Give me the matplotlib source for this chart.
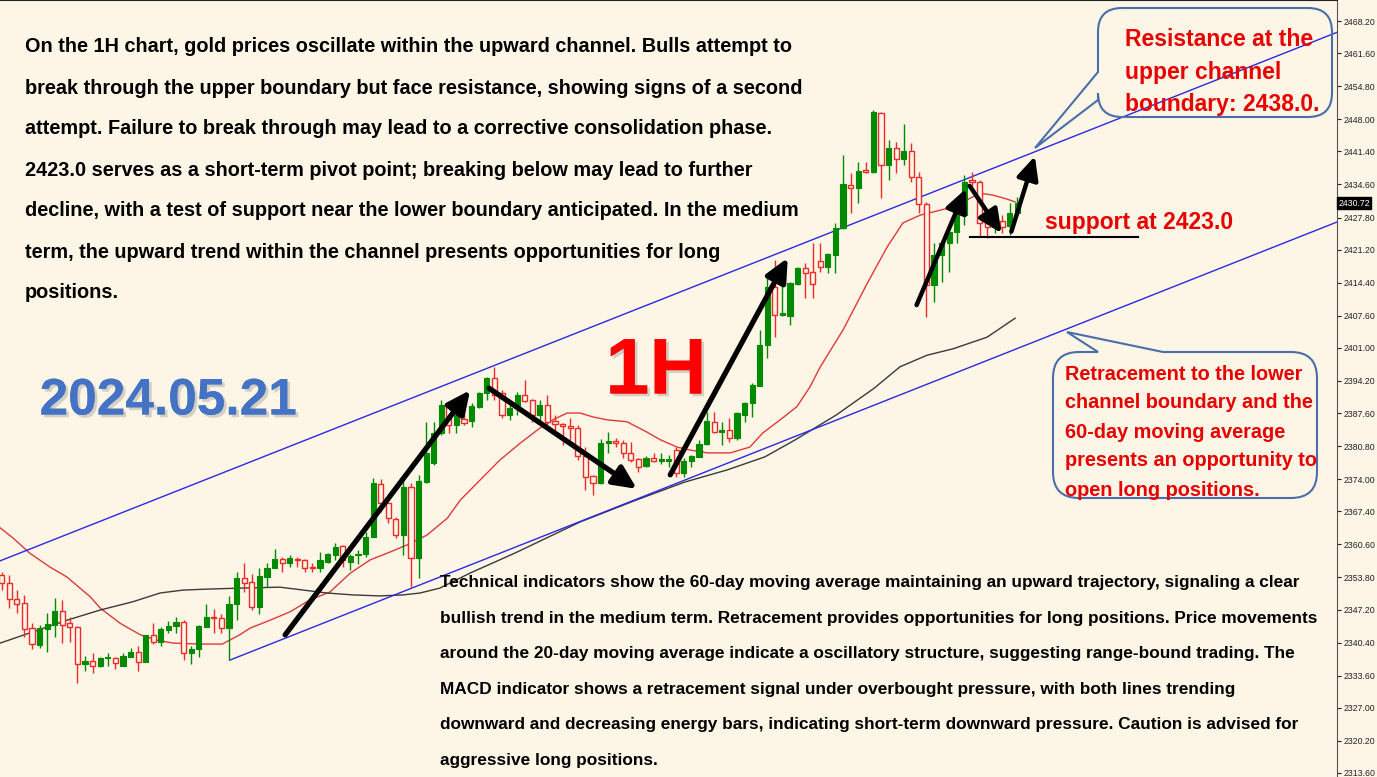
import matplotlib
matplotlib.use("Agg")
import matplotlib.pyplot as plt
import matplotlib.patheffects as pe
from matplotlib.path import Path
from matplotlib.patches import PathPatch
import numpy as np

# 1H gold candles, oldest first
opens = [2354.3, 2352.7, 2349.4, 2348.6, 2343.4, 2339.9, 2343.2, 2344.0, 2346.9, 2344.5,
         2343.6, 2336.0, 2336.6, 2335.6, 2337.3, 2337.3, 2335.6, 2337.5, 2338.5, 2336.4,
         2342.0, 2340.6, 2343.0, 2343.8, 2344.7, 2338.3, 2339.1, 2343.6, 2345.7, 2345.5,
         2343.4, 2348.4, 2353.7, 2352.9, 2347.7, 2353.9, 2355.8, 2357.6, 2356.8, 2357.6,
         2357.4, 2356.0, 2355.8, 2357.0, 2358.5, 2360.3, 2357.0, 2358.5, 2358.7, 2362.1,
         2373.0, 2369.1, 2365.8, 2362.6, 2372.4, 2357.8, 2373.4, 2377.3, 2383.5, 2389.3,
         2385.2, 2386.4, 2386.0, 2388.9, 2391.7, 2394.8, 2391.7, 2387.2, 2388.7, 2391.3,
         2390.3, 2387.2, 2389.3, 2386.0, 2385.4, 2384.9, 2384.5, 2378.8, 2374.7, 2373.2,
         2381.5, 2381.9, 2381.5, 2379.4, 2378.2, 2376.7, 2378.4, 2377.8, 2377.8, 2380.0,
         2375.3, 2377.8, 2378.6, 2381.3, 2385.8, 2383.7, 2384.1, 2382.5, 2387.2, 2389.7,
         2393.2, 2401.6, 2413.5, 2407.7, 2407.5, 2414.1, 2417.4, 2416.6, 2418.8, 2417.6,
         2420.1, 2425.6, 2434.5, 2433.9, 2437.6, 2437.2, 2449.3, 2438.6, 2442.1, 2439.9,
         2441.5, 2436.1, 2430.6, 2413.9, 2420.1, 2422.6, 2424.8, 2428.3, 2435.5, 2435.1,
         2426.9, 2425.9, 2427.1, 2426.1, 2428.7]
highs = [2354.9, 2354.3, 2351.2, 2350.2, 2344.5, 2344.0, 2346.5, 2349.6, 2349.2, 2345.7,
         2343.8, 2337.7, 2338.3, 2337.5, 2338.3, 2337.5, 2338.3, 2339.3, 2339.7, 2342.0,
         2344.5, 2343.6, 2344.9, 2345.7, 2345.1, 2339.7, 2344.0, 2348.4, 2347.3, 2346.3,
         2350.0, 2354.9, 2356.8, 2354.5, 2355.8, 2356.8, 2359.7, 2358.0, 2358.4, 2358.0,
         2357.5, 2356.8, 2359.1, 2358.9, 2360.9, 2360.5, 2358.7, 2359.5, 2363.1, 2374.3,
         2374.1, 2369.3, 2366.2, 2375.0, 2373.2, 2374.9, 2385.8, 2385.8, 2390.3, 2389.7,
         2388.2, 2388.9, 2389.7, 2391.9, 2395.0, 2397.1, 2392.4, 2389.3, 2391.9, 2394.4,
         2390.5, 2390.3, 2391.3, 2387.2, 2385.6, 2386.6, 2385.2, 2380.6, 2374.9, 2382.3,
         2383.7, 2382.5, 2382.1, 2381.7, 2378.4, 2378.8, 2379.4, 2379.4, 2379.0, 2380.6,
         2378.4, 2379.0, 2382.1, 2387.8, 2387.8, 2385.8, 2386.6, 2387.8, 2389.9, 2393.8,
         2404.7, 2415.6, 2419.1, 2413.9, 2414.5, 2417.6, 2418.4, 2422.5, 2422.5, 2420.5,
         2426.7, 2440.7, 2437.0, 2439.2, 2439.2, 2449.9, 2449.5, 2443.8, 2443.4, 2447.1,
         2443.2, 2437.2, 2431.0, 2422.6, 2423.2, 2426.3, 2428.9, 2436.5, 2437.2, 2435.5,
         2427.7, 2430.4, 2428.3, 2430.8, 2432.0]
lows = [2351.2, 2347.5, 2346.5, 2341.6, 2339.1, 2339.3, 2338.5, 2341.6, 2340.4, 2340.6,
        2332.1, 2334.6, 2334.2, 2335.4, 2335.6, 2335.0, 2335.6, 2337.5, 2334.6, 2336.4,
        2340.1, 2339.7, 2342.4, 2342.4, 2336.9, 2336.0, 2337.5, 2343.6, 2342.4, 2342.4,
        2336.9, 2345.1, 2350.8, 2347.1, 2346.3, 2351.9, 2355.8, 2354.9, 2356.0, 2356.0,
        2355.0, 2355.0, 2355.0, 2356.8, 2357.4, 2356.0, 2355.4, 2356.6, 2358.0, 2362.1,
        2367.3, 2365.0, 2361.9, 2358.4, 2351.9, 2353.7, 2373.2, 2376.9, 2383.1, 2383.5,
        2383.5, 2385.2, 2384.7, 2388.7, 2390.3, 2390.3, 2386.6, 2386.2, 2387.2, 2389.9,
        2385.8, 2385.8, 2384.7, 2383.7, 2381.0, 2382.1, 2378.0, 2371.8, 2370.8, 2373.0,
        2379.4, 2380.6, 2378.4, 2377.6, 2375.5, 2376.5, 2377.6, 2377.2, 2376.6, 2374.5,
        2374.5, 2376.5, 2378.6, 2381.0, 2383.5, 2381.0, 2381.7, 2382.1, 2385.8, 2386.8,
        2393.2, 2398.9, 2403.2, 2407.5, 2405.7, 2413.9, 2411.2, 2411.2, 2416.6, 2416.4,
        2416.4, 2425.4, 2428.7, 2430.8, 2437.0, 2437.0, 2431.8, 2435.5, 2437.0, 2438.6,
        2435.1, 2428.7, 2407.3, 2410.4, 2414.5, 2416.6, 2422.6, 2426.3, 2434.1, 2423.8,
        2423.6, 2424.6, 2424.6, 2424.2, 2428.3]
closes = [2352.7, 2349.4, 2348.4, 2343.2, 2340.1, 2343.4, 2344.2, 2346.9, 2344.0, 2343.6,
          2336.0, 2336.6, 2335.6, 2337.3, 2337.5, 2336.2, 2337.7, 2338.5, 2336.4, 2342.0,
          2340.6, 2343.2, 2343.8, 2344.7, 2338.3, 2339.1, 2343.8, 2345.7, 2345.5, 2343.4,
          2348.4, 2353.7, 2352.7, 2347.7, 2354.1, 2355.8, 2357.6, 2356.8, 2357.8, 2357.4,
          2355.8, 2355.8, 2357.4, 2358.7, 2360.1, 2357.4, 2358.2, 2358.7, 2362.1, 2373.2,
          2369.1, 2366.0, 2362.6, 2372.4, 2357.8, 2373.6, 2379.4, 2383.5, 2389.3, 2385.2,
          2387.2, 2385.6, 2389.1, 2391.7, 2394.8, 2391.3, 2387.2, 2388.7, 2391.3, 2390.1,
          2387.2, 2389.3, 2385.8, 2385.4, 2384.9, 2384.5, 2378.8, 2374.5, 2373.2, 2381.5,
          2381.9, 2381.5, 2379.4, 2378.0, 2376.5, 2378.4, 2377.8, 2378.2, 2378.2, 2375.3,
          2377.8, 2378.8, 2381.3, 2386.0, 2383.7, 2384.1, 2382.5, 2387.6, 2389.7, 2393.4,
          2401.6, 2413.5, 2407.7, 2408.1, 2414.3, 2417.4, 2416.4, 2414.1, 2417.6, 2420.3,
          2425.6, 2434.7, 2433.9, 2437.4, 2437.2, 2449.5, 2438.6, 2442.1, 2439.9, 2441.5,
          2436.1, 2430.6, 2413.9, 2420.1, 2422.6, 2424.8, 2428.3, 2435.1, 2435.1, 2426.7,
          2425.9, 2426.9, 2425.9, 2428.7, 2430.7]

# moving averages, sampled along the drawn lines (bar index, price)
ma20_x = [-0.2, 1.5, 3.7, 6.4, 8.6, 11.7, 13.0, 15.6, 18.3, 20.5, 22.6, 26.2, 29.1, 31.4,
          32.8, 35.4, 38.0, 40.7, 43.3, 46.0, 48.6, 51.2, 53.5, 56.1, 58.8, 60.5, 63.1,
          65.7, 68.4, 71.0, 72.7, 74.6, 76.3, 78.0, 79.9, 82.5, 85.1, 86.9, 89.1, 90.8,
          93.1, 96.1, 98.7, 100.4, 102.7, 104.9, 106.6, 108.0, 111.0, 114.2, 116.8, 118.9,
          121.2, 123.8, 126.0, 127.8, 129.1, 130.8, 132.6, 133.7]
ma20_y = [2364.0, 2361.9, 2358.8, 2355.9, 2353.9, 2349.8, 2347.5, 2344.4, 2342.0, 2340.9,
          2340.3, 2340.1, 2340.1, 2342.0, 2343.4, 2345.0, 2346.7, 2349.2, 2350.8, 2354.7,
          2357.4, 2359.0, 2360.5, 2362.5, 2366.0, 2369.7, 2373.8, 2377.9, 2381.4, 2384.5,
          2386.2, 2387.6, 2387.6, 2386.8, 2386.2, 2385.8, 2383.7, 2382.1, 2380.6, 2380.0,
          2379.4, 2379.4, 2380.6, 2383.5, 2386.2, 2388.9, 2392.9, 2397.1, 2404.7, 2414.3,
          2421.7, 2426.7, 2428.3, 2429.3, 2430.2, 2431.8, 2432.8, 2432.4, 2431.6, 2431.0]
ma60_x = [-0.2, 4.1, 8.6, 13.0, 17.3, 20.9, 23.9, 27.1, 31.4, 36.7, 39.8, 42.9, 46.4, 49.9,
          52.9, 55.2, 57.8, 61.8, 67.7, 76.3, 83.7, 90.1, 95.7, 100.7, 104.7, 110.1, 115.1,
          118.5, 122.1, 125.5, 130.0, 133.7]
ma60_y = [2340.3, 2342.6, 2345.0, 2347.1, 2348.8, 2350.6, 2351.2, 2351.4, 2351.6, 2351.8,
          2351.2, 2350.6, 2350.2, 2350.0, 2350.2, 2350.6, 2351.6, 2354.7, 2358.8, 2365.2,
          2369.7, 2373.4, 2375.9, 2378.6, 2382.1, 2387.2, 2392.7, 2397.1, 2399.5, 2400.8,
          2403.2, 2407.1]

price_ticks = [2468.20, 2461.60, 2454.80, 2448.00, 2441.40, 2434.60, 2427.80, 2421.20,
               2414.40, 2407.60, 2401.00, 2394.20, 2387.60, 2380.80, 2374.00, 2367.40,
               2360.60, 2353.80, 2347.20, 2340.40, 2333.60, 2327.00, 2320.20, 2313.60]
last_price = 2430.72

top_lines = [
    "On the 1H chart, gold prices oscillate within the upward channel. Bulls attempt to",
    "break through the upper boundary but face resistance, showing signs of a second",
    "attempt. Failure to break through may lead to a corrective consolidation phase.",
    "2423.0 serves as a short-term pivot point; breaking below may lead to further",
    "decline, with a test of support near the lower boundary anticipated. In the medium",
    "term, the upward trend within the channel presents opportunities for long",
    "positions.",
]
bottom_lines = [
    "Technical indicators show the 60-day moving average maintaining an upward trajectory, signaling a clear",
    "bullish trend in the medium term. Retracement provides opportunities for long positions. Price movements",
    "around the 20-day moving average indicate a oscillatory structure, suggesting range-bound trading. The",
    "MACD indicator shows a retracement signal under overbought pressure, with both lines trending",
    "downward and decreasing energy bars, indicating short-term downward pressure. Caution is advised for",
    "aggressive long positions.",
]
resist_lines = ["Resistance at the", "upper channel", "boundary: 2438.0."]
retrace_lines = ["Retracement to the lower", "channel boundary and the", "60-day moving average",
                 "presents an opportunity to", "open long positions."]

W, H = 1377, 777
BG = "#fdf5e6"
GREEN = "#008a00"
RED = "#ee2a2a"
FONT = ["Liberation Sans", "DejaVu Sans"]

fig = plt.figure(figsize=(W / 100, H / 100), dpi=100, facecolor=BG)
ax = fig.add_axes([0, 0, 1337 / W, 1])
ax.set_facecolor(BG)

o = np.array(opens); h = np.array(highs); l = np.array(lows); c = np.array(closes)
idx = np.arange(len(o))
up = c >= o
cols = np.where(up, GREEN, RED)

# wicks, then bodies on top
ax.vlines(idx, l, h, colors=cols, lw=1, zorder=3)
body_lo = np.minimum(o, c)
body_h = np.maximum(np.abs(c - o), 0.15)
ax.bar(idx[up], body_h[up], bottom=body_lo[up], width=0.68, color=GREEN,
       edgecolor=GREEN, lw=0.8, zorder=4)
ax.bar(idx[~up], body_h[~up], bottom=body_lo[~up], width=0.68, color=BG,
       edgecolor=RED, lw=1, zorder=4)

ax.plot(ma20_x, ma20_y, color="#e03a3a", lw=1, zorder=2)
ax.plot(ma60_x, ma60_y, color="#3a3a3a", lw=1, zorder=2)

# channel
ax.plot([-0.22, 176.2], [2357.2, 2465.9], color="#2a2ae0", lw=1, zorder=2)
ax.plot([30.1, 176.2], [2336.8, 2426.9], color="#2a2ae0", lw=1, zorder=2)

# support line
ax.plot([127.7, 149.9], [2423.8, 2423.8], color="black", lw=1.5, zorder=5)

arrows = [((37.4, 2342.0), (61.8, 2392.3), 3.8),
          ((64.3, 2392.7), (83.8, 2372.0), 3.8),
          ((88.2, 2374.9), (103.7, 2419.5), 3.8),
          ((120.7, 2409.8), (127.2, 2433.7), 3.2),
          ((127.7, 2434.3), (131.9, 2424.6), 3.2),
          ((133.2, 2424.9), (136.3, 2440.4), 3.2)]
for start, tip, w in arrows:
    ax.annotate("", xy=tip, xytext=start,
                arrowprops=dict(arrowstyle="-|>,head_length=0.7,head_width=0.33",
                                lw=w, color="black", mutation_scale=20,
                                shrinkA=0, shrinkB=0), zorder=6)

ax.set_xlim(-0.22, 176.16)
ax.set_ylim(2312.77, 2472.52)
ax.set_xticks([])
ax.yaxis.tick_right()
ax.set_yticks(price_ticks)
ax.set_yticklabels([f"{v:.2f}" for v in price_ticks], fontsize=6.3, family=FONT)
ax.tick_params(axis="y", direction="out", length=3, width=0.8, pad=2, colors="#222222")
for s in ["left", "bottom"]:
    ax.spines[s].set_visible(False)
ax.spines["right"].set_color("#555555")
ax.spines["top"].set_color("#222222")

ax.text(1.001, last_price, f"{last_price:.2f}", transform=ax.get_yaxis_transform(),
        ha="left", va="center", fontsize=6.3, family=FONT, color="white",
        bbox=dict(boxstyle="square,pad=0.15", fc="black", ec="black"), clip_on=False)


def fxy(x, y):
    return (x / W, 1 - y / H)


def callout(x0, y0, x1, y1, r, side, base, tip):
    v, k = [], []

    def mv(x, y):
        v.append(fxy(x, y)); k.append(Path.MOVETO)

    def ln(x, y):
        v.append(fxy(x, y)); k.append(Path.LINETO)

    def cv(cx, cy, x, y):
        v.extend([fxy(cx, cy), fxy(x, y)]); k.extend([Path.CURVE3, Path.CURVE3])

    mv(x0 + r, y0)
    if side == "top":
        ln(base[0], y0); ln(*tip); ln(base[1], y0)
    ln(x1 - r, y0); cv(x1, y0, x1, y0 + r)
    ln(x1, y1 - r); cv(x1, y1, x1 - r, y1)
    ln(x0 + r, y1); cv(x0, y1, x0, y1 - r)
    if side == "left":
        ln(x0, base[1]); ln(*tip); ln(x0, base[0])
    ln(x0, y0 + r); cv(x0, y0, x0 + r, y0)
    v.append(fxy(x0 + r, y0)); k.append(Path.CLOSEPOLY)
    fig.add_artist(PathPatch(Path(v, k), transform=fig.transFigure, fc="none",
                             ec="#4a6ea8", lw=1.5, zorder=7))


callout(1098, 8, 1332, 117, 24, "left", (72, 100), (1035, 148))
callout(1053, 352, 1317, 498, 26, "top", (1098, 1163), (1067, 332))

for i, t in enumerate(top_lines):
    fig.text(25 / W, 1 - (47 + 41 * i) / H, t, fontsize=14.3, fontweight="bold",
             family=FONT, va="center", ha="left", color="black", zorder=8)
for i, t in enumerate(bottom_lines):
    fig.text(440 / W, 1 - (583 + 35.4 * i) / H, t, fontsize=12.4, fontweight="bold",
             family=FONT, va="center", ha="left", color="black", zorder=8)
for i, t in enumerate(resist_lines):
    fig.text(1125 / W, 1 - (40 + 32.5 * i) / H, t, fontsize=16.5, fontweight="bold",
             family=FONT, va="center", ha="left", color="#e80000", zorder=8)
for i, t in enumerate(retrace_lines):
    fig.text(1065 / W, 1 - (374 + 29 * i) / H, t, fontsize=14.3, fontweight="bold",
             family=FONT, va="center", ha="left", color="#e80000", zorder=8)
fig.text(1045 / W, 1 - 222 / H, "support at 2423.0", fontsize=16.5, fontweight="bold",
         family=FONT, va="center", ha="left", color="#e80000", zorder=8)

shadow = [pe.withSimplePatchShadow(offset=(2, -2), shadow_rgbFace="#888888", alpha=0.35),
          pe.Normal()]
fig.text(168 / W, 1 - 401 / H, "2024.05.21", fontsize=37, fontweight="bold", family=FONT,
         va="center", ha="center", color="#4472c4", path_effects=shadow, zorder=8)
fig.text(656 / W, 1 - 373 / H, "1H", fontsize=57, fontweight="bold", family=FONT,
         va="center", ha="center", color="#ff0000", path_effects=shadow, zorder=8)

fig.savefig("out.png", dpi=100, facecolor=BG)
